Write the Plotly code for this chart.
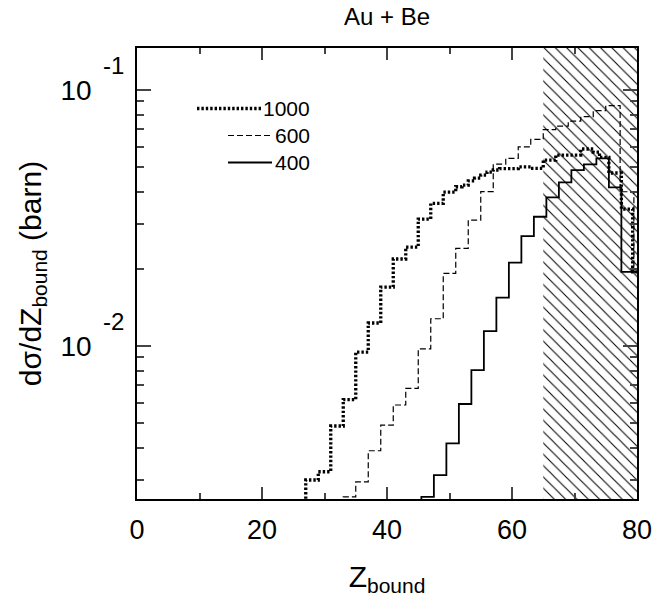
import numpy as np
import plotly.graph_objects as go

# ---- data (Z_bound bin edges, dsigma/dZ in barn) ----
# 1000 A MeV (dotted)
z_edges_1000 = [25, 27, 29, 31, 33, 35, 37, 39, 41, 43, 45, 47, 49, 51, 52, 53, 54, 55, 56, 57, 58,
                61, 63, 65, 67, 71, 73, 74, 75.5, 77.5, 79.3, 80]
dsdz_1000 = [0.0015, 0.00299, 0.00322, 0.00486, 0.00616, 0.00945, 0.01227, 0.01696, 0.02182, 0.02429,
             0.03126, 0.0360, 0.03986, 0.0418, 0.0424, 0.0441, 0.0452, 0.0464, 0.0477, 0.0486,
             0.0492, 0.0500, 0.0493, 0.0531, 0.0556, 0.0587, 0.0571, 0.0544, 0.0473, 0.0342, 0.01945]

# 600 A MeV (dashed)
z_edges_600 = [31, 33, 35, 37, 39, 41, 43, 45, 47, 49, 51, 53, 55, 57, 59, 61, 63, 65, 67, 69, 71,
               73, 75, 77.3, 79.5, 80]
dsdz_600 = [0.0015, 0.00257, 0.00294, 0.00389, 0.0049, 0.00587, 0.00682, 0.00973, 0.01275, 0.01918,
            0.02401, 0.03097, 0.04003, 0.05126, 0.05395, 0.05988, 0.06402, 0.06991, 0.07215,
            0.07546, 0.07858, 0.08295, 0.08675, 0.03996, 0.01945]

# 400 A MeV (solid)
z_edges_400 = [43.5, 45.5, 47.5, 49.5, 51.5, 53.5, 55.5, 57.5, 59.5, 61.5, 63.5, 65.5, 67.5, 69.5,
               71.5, 73.5, 75.5, 77.5, 80]
dsdz_400 = [0.0015, 0.00257, 0.003126, 0.004157, 0.005922, 0.008035, 0.01141, 0.01543, 0.02113,
            0.02683, 0.03191, 0.0380, 0.04349, 0.04857, 0.05111, 0.05395, 0.04158, 0.01945]

energies = ["1000", "600", "400"]
hatch_lo, hatch_hi = 65, 80
x_range = [0, 80]
y_min, y_max = 0.00252, 0.1456
x_tick_labels = ["0", "20", "40", "60", "80"]
y_tick_vals = [0.01, 0.1]
y_tick_mant = ["10", "10"]
y_tick_exp = ["-2", "-1"]

FONT = "Liberation Sans, Arial, sans-serif"

def step_xy(edges, vals):
    return list(edges), list(vals) + [vals[-1]]

fig = go.Figure()

# hatched region
fig.add_trace(go.Scatter(
    x=[hatch_lo, hatch_hi, hatch_hi, hatch_lo, hatch_lo],
    y=[y_min, y_min, y_max, y_max, y_min],
    mode="lines", fill="toself", line=dict(width=0, color="rgba(0,0,0,0)"),
    fillcolor="rgba(255,255,255,0)",
    fillpattern=dict(shape="\\", size=8, solidity=0.13, fgcolor="black",
                     bgcolor="rgba(255,255,255,0)", fillmode="replace"),
    showlegend=False, hoverinfo="skip"))

styles = {
    "1000": dict(color="black", width=3.3, dash="2.4px,2px"),
    "600": dict(color="black", width=1.2, dash="6px,3px"),
    "400": dict(color="black", width=1.8, dash="solid"),
}
series = {"1000": (z_edges_1000, dsdz_1000), "600": (z_edges_600, dsdz_600),
          "400": (z_edges_400, dsdz_400)}
for e in energies:
    xs, ys = step_xy(*series[e])
    fig.add_trace(go.Scatter(x=xs, y=ys, mode="lines", line_shape="hv",
                             line=styles[e], name=e, showlegend=False))

# hand-drawn legend (paper coordinates)
plot_l, plot_r, plot_t, plot_b = 137, 637, 48, 499
def px(x):
    return (x - plot_l) / (plot_r - plot_l)
def py(y):
    return (plot_b - y) / (plot_b - plot_t)

leg = [("1000", 108.5, 197, 261), ("600", 135.5, 228, 272), ("400", 162.5, 228, 272)]
for lab, yy, x0, x1 in leg:
    st = styles[lab]
    fig.add_shape(type="line", xref="paper", yref="paper", x0=px(x0), x1=px(x1), y0=py(yy), y1=py(yy),
                  line=dict(color="black", width=st["width"], dash=st["dash"]))
    fig.add_annotation(xref="paper", yref="paper", x=px(312), y=py(yy), xanchor="right", yanchor="middle",
                       text=lab, showarrow=False, font=dict(family=FONT, size=21, color="black"))

# exponents of the y tick labels (10^-1, 10^-2)
for v, ex in zip(y_tick_vals, y_tick_exp):
    fig.add_annotation(xref="paper", yref="y", x=px(126), y=np.log10(v), yshift=24,
                       xanchor="right", yanchor="middle", text=ex, showarrow=False,
                       font=dict(family=FONT, size=24, color="black"))

fig.update_layout(
    width=653, height=606, autosize=False,
    margin=dict(l=plot_l, r=653 - plot_r, t=plot_t, b=606 - plot_b),
    paper_bgcolor="white", plot_bgcolor="white",
    font=dict(family=FONT, color="black"),
    title=dict(text="Au + Be", x=0.5, xref="paper", y=1 - 17 / 606, yref="container",
               xanchor="center", yanchor="middle", font=dict(size=24, family=FONT)),
    xaxis=dict(range=x_range, tickmode="array", tickvals=[float(t) for t in x_tick_labels],
               ticktext=x_tick_labels, ticks="inside", ticklen=12, tickwidth=1.5,
               showline=True, linewidth=1.5, linecolor="black", mirror="ticks",
               showgrid=False, zeroline=False, automargin=False,
               minor=dict(tickvals=[10, 30, 50, 70], ticks="inside", ticklen=6, tickwidth=1.5,
                          showgrid=False),
               tickfont=dict(size=27, family=FONT), ticklabelstandoff=6,
               title=dict(text="Z<sub>bound</sub>", font=dict(size=30, family=FONT), standoff=22)),
    yaxis=dict(type="log", range=[np.log10(y_min), np.log10(y_max)], tickmode="array",
               tickvals=y_tick_vals, ticktext=y_tick_mant, ticks="inside", ticklen=14, tickwidth=1.5,
               showline=True, linewidth=1.5, linecolor="black", mirror="ticks",
               showgrid=False, zeroline=False, automargin=False,
               minor=dict(tickvals=[m * 10.0 ** k for k in (-3, -2) for m in range(2, 10)],
                          ticks="inside", ticklen=7, tickwidth=1.5, showgrid=False),
               tickfont=dict(size=28, family=FONT), ticklabelstandoff=38,
               title=dict(text="d\u03c3/dZ<sub>bound</sub> (barn)", font=dict(size=30, family=FONT),
                          standoff=10)),
)

fig.write_html("out.html")
